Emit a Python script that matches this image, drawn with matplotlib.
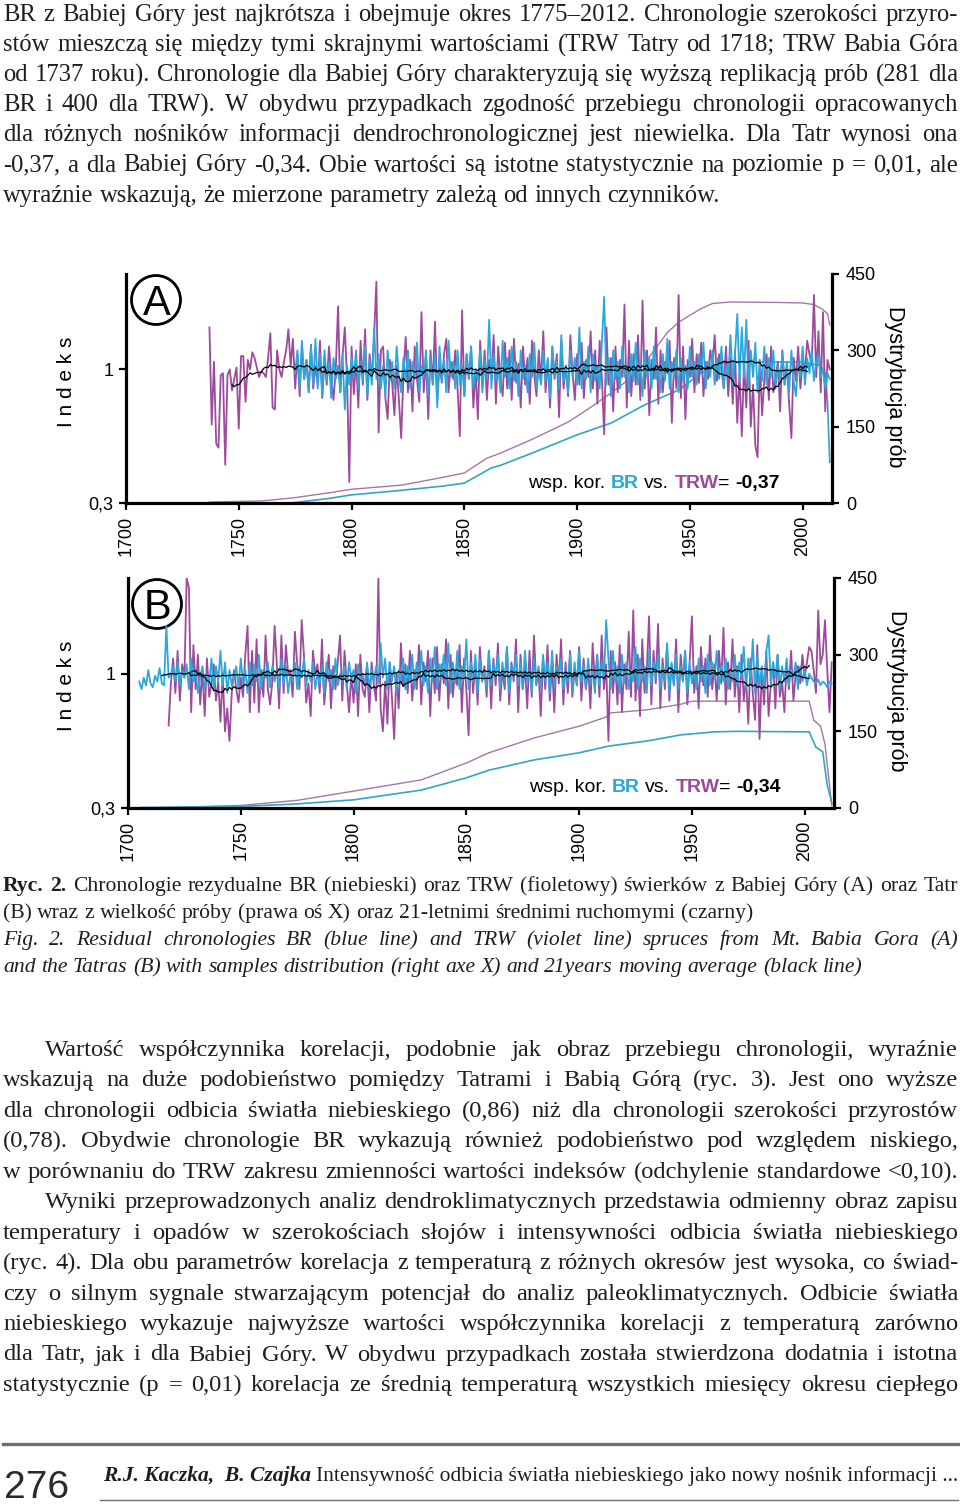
import numpy as np
import pandas as pd
import matplotlib
matplotlib.use('Agg')
import matplotlib.pyplot as plt
from matplotlib.patches import Ellipse
from matplotlib.lines import Line2D

# ---------------- DATA ----------------
# Panel A (Babia Góra) residual chronologies
A_TRW_START = 1737
A_TRW = [
    1.22, 0.71, 1.04, 0.61, 0.59, 0.97, 0.98, 0.50, 0.97, 1.00,
    0.89, 0.95, 1.01, 0.69, 1.07, 1.07, 0.83, 1.05, 1.00, 1.09,
    1.06, 1.01, 0.96, 0.99, 0.98, 0.96, 1.06, 1.19, 0.80, 0.79,
    1.10, 1.00, 0.96, 1.04, 1.10, 1.21, 1.02, 1.16, 0.90, 1.08,
    0.86, 1.12, 0.95, 1.05, 0.88, 1.13, 0.90, 1.02, 0.92, 1.15,
    0.85, 1.05, 0.92, 1.12, 0.96, 0.84, 1.00, 1.33, 0.88, 1.07,
    1.22, 0.95, 0.41, 1.12, 0.87, 1.05, 0.80, 1.15, 0.92, 1.21,
    0.84, 1.08, 0.95, 1.18, 1.46, 0.67, 1.10, 1.12, 0.85, 0.74,
    1.05, 0.93, 0.76, 1.02, 0.84, 0.64, 0.97, 1.17, 0.88, 1.05,
    0.78, 1.12, 0.95, 0.83, 1.30, 0.88, 1.06, 0.74, 1.10, 0.92,
    1.25, 0.84, 1.02, 0.93, 1.08, 1.16, 0.88, 1.04, 0.95, 1.10,
    0.90, 0.65, 1.31, 0.86, 1.08, 0.95, 1.12, 0.80, 1.00, 0.74,
    1.15, 0.92, 1.10, 0.84, 1.05, 0.96, 1.18, 0.82, 1.12, 0.95,
    0.86, 1.14, 0.90, 1.10, 0.84, 1.16, 0.93, 1.03, 0.80, 1.12,
    0.92, 1.06, 0.82, 1.15, 0.97, 0.86, 1.10, 0.94, 1.20, 0.88,
    1.05, 0.80, 1.12, 0.95, 1.08, 0.75, 1.15, 0.90, 1.02, 0.86,
    1.18, 0.98, 0.84, 1.08, 0.92, 1.14, 0.85, 1.05, 0.96, 1.20,
    0.90, 1.10, 0.82, 1.15, 0.95, 0.66, 1.22, 0.92, 1.06, 0.78,
    1.12, 0.88, 1.05, 0.96, 1.34, 0.80, 1.15, 0.86, 1.08, 0.92,
    1.18, 0.84, 1.36, 0.90, 1.10, 0.76, 1.05, 0.95, 1.22, 0.82,
    1.10, 0.88, 1.04, 0.98, 1.15, 0.72, 1.06, 0.90, 1.39, 0.85,
    1.12, 0.74, 1.05, 0.96, 1.16, 0.88, 1.08, 0.93, 1.14, 0.86,
    1.04, 0.95, 1.10, 1.02, 1.18, 0.94, 1.08, 1.00, 0.90, 1.12,
    0.86, 1.06, 0.82, 1.10, 0.72, 0.98, 0.65, 1.04, 0.80, 1.15,
    0.70, 0.92, 0.60, 0.54, 1.05, 0.76, 0.95, 1.08, 0.84, 1.12,
    0.88, 0.96, 1.04, 0.78, 1.10, 0.92, 1.02, 0.82, 0.64, 1.06,
    0.94, 1.12, 0.90, 1.05, 0.98, 1.15, 1.08, 1.02, 1.39, 0.96,
    1.20, 0.88, 1.30, 0.78, 1.05, 1.00,
]
A_BR_START = 1775
A_BR = [
    0.98, 1.10, 0.90, 1.15, 0.95, 1.05, 0.88, 1.12, 0.92, 1.16,
    0.90, 1.08, 0.86, 1.10, 0.94, 1.04, 0.85, 1.06, 0.95, 1.02,
    0.88, 1.08, 0.79, 1.02, 0.92, 1.06, 0.96, 1.10, 0.90, 1.04,
    0.94, 1.12, 0.86, 1.05, 0.92, 1.22, 0.95, 1.08, 0.90, 1.02,
    0.86, 1.10, 0.94, 1.04, 0.90, 1.12, 0.96, 0.88, 1.06, 0.94,
    1.10, 0.90, 1.04, 0.95, 1.14, 0.88, 1.02, 0.96, 1.10, 0.86,
    1.06, 0.92, 1.08, 0.80, 1.12, 0.94, 1.05, 0.88, 1.15, 0.96,
    1.04, 0.90, 1.10, 0.92, 1.02, 0.86, 1.08, 0.96, 1.12, 0.90,
    1.00, 0.94, 1.10, 0.88, 1.05, 0.95, 1.26, 0.90, 1.08, 0.94,
    1.02, 0.88, 1.15, 0.96, 1.06, 0.90, 1.12, 0.94, 1.04, 0.86,
    1.10, 0.95, 1.02, 0.88, 1.08, 0.96, 1.14, 0.90, 1.00, 0.92,
    1.10, 0.94, 1.06, 0.85, 1.12, 0.96, 1.04, 0.90, 1.18, 0.94,
    1.02, 0.88, 1.10, 0.96, 1.06, 0.92, 1.22, 0.90, 1.04, 0.95,
    1.12, 0.88, 1.08, 0.94, 1.02, 0.90, 1.15, 1.38, 0.92, 1.06,
    0.86, 1.10, 0.95, 1.04, 0.90, 1.12, 0.96, 1.02, 0.88, 1.08,
    0.94, 1.14, 0.92, 1.04, 0.86, 1.10, 0.96, 1.06, 0.90, 1.12,
    0.95, 1.02, 0.88, 1.08, 0.94, 1.16, 0.90, 1.04, 0.96, 1.10,
    0.88, 1.06, 0.94, 1.02, 0.90, 1.12, 0.96, 1.04, 0.92, 1.08,
    0.98, 1.14, 0.90, 1.04, 0.96, 1.10, 0.92, 1.06, 0.95, 1.12,
    0.90, 1.02, 0.96, 1.18, 0.92, 1.08, 1.29, 0.94, 1.22, 0.96,
    1.26, 0.90, 1.10, 0.96, 1.14, 0.88, 1.04, 0.94, 1.12, 0.92,
    1.06, 0.96, 1.10, 0.90, 1.02, 0.95, 1.08, 0.92, 1.04, 0.88,
    1.10, 0.94, 0.86, 1.04, 0.96, 1.12, 0.92, 1.06, 0.98, 1.10,
    0.94, 1.04, 1.08, 0.96, 1.00, 0.90, 0.98, 0.95,
]
# sample depth, panel A (key points)
A_DEP_TRW_YEARS = [1737, 1760, 1774, 1790, 1800, 1822, 1840, 1850, 1860, 1866, 1880, 1896,
                   1905, 1915, 1925, 1930, 1935, 1940, 1945, 1950, 1955, 1960, 1968, 1990,
                   2000, 2005, 2009, 2011, 2012]
A_DEP_TRW = [2, 4, 10, 20, 27, 35, 50, 59, 88, 98, 125, 159,
             185, 216, 250, 275, 305, 335, 355, 369, 382, 392, 395, 394,
             393, 390, 380, 372, 350]
A_DEP_BR_YEARS = [1775, 1790, 1800, 1820, 1840, 1850, 1862, 1866, 1880, 1900, 1915, 1930,
                  1945, 1955, 1965, 1975, 2000, 2008, 2010, 2011, 2012]
A_DEP_BR = [1, 9, 16, 24, 33, 39, 69, 74, 98, 134, 157, 193,
            222, 255, 275, 277, 277, 270, 255, 200, 80]

# Panel B (Tatry) residual chronologies
B_TRW_START = 1718
B_TRW = [
    0.73, 0.95, 1.08, 0.90, 1.12, 0.86, 1.05, 0.98, 1.50, 1.45,
    0.80, 1.15, 0.92, 1.10, 0.84, 1.02, 0.78, 1.08, 0.88, 0.95,
    1.05, 0.86, 0.96, 0.75, 1.00, 0.70, 0.82, 0.65, 0.90, 1.02,
    0.92, 0.85, 0.98, 0.88, 1.10, 1.25, 0.80, 1.12, 0.85, 1.18,
    0.80, 1.02, 0.88, 1.20, 0.92, 0.84, 0.96, 1.25, 1.05, 0.82,
    1.20, 0.90, 1.15, 1.00, 1.02, 0.88, 1.22, 1.05, 0.92, 1.28,
    1.10, 0.85, 0.95, 0.78, 1.12, 1.00, 1.05, 0.90, 1.18, 0.84,
    0.98, 1.10, 0.82, 1.04, 0.92, 1.06, 1.20, 0.86, 1.12, 0.95,
    0.80, 1.00, 0.85, 1.05, 0.78, 1.10, 0.92, 0.88, 1.04, 0.80,
    1.06, 0.94, 0.86, 1.50, 0.82, 0.70, 0.96, 0.74, 1.06, 0.88,
    0.66, 1.00, 0.82, 1.16, 0.94, 1.05, 0.90, 1.12, 0.86, 1.02,
    0.92, 1.15, 0.84, 1.06, 0.96, 1.12, 0.78, 1.08, 0.90, 1.14,
    0.86, 1.05, 0.95, 1.18, 0.82, 1.10, 0.88, 1.02, 0.94, 1.15,
    0.80, 1.08, 0.92, 0.68, 1.12, 0.90, 1.06, 0.84, 1.14, 0.96,
    1.04, 0.88, 1.12, 0.82, 1.08, 0.94, 1.16, 0.86, 1.02, 0.92,
    1.14, 0.84, 1.06, 0.96, 1.18, 0.80, 1.10, 0.92, 1.04, 0.82,
    1.12, 0.88, 1.20, 0.94, 1.02, 0.78, 1.08, 0.92, 1.15, 0.86,
    1.05, 0.80, 1.10, 0.95, 1.18, 0.84, 1.06, 0.90, 1.12, 0.88,
    1.02, 0.94, 1.14, 0.86, 1.08, 0.92, 1.04, 0.82, 1.16, 0.95,
    1.10, 0.88, 1.20, 0.92, 1.05, 0.65, 1.12, 0.90, 1.06, 0.84,
    1.15, 0.80, 1.05, 0.92, 1.22, 0.88, 1.33, 0.86, 1.10, 0.78,
    1.18, 0.90, 1.02, 1.30, 0.84, 1.12, 0.95, 1.26, 0.82, 1.08,
    0.92, 1.15, 0.86, 1.05, 0.94, 1.18, 0.80, 1.10, 0.96, 1.12,
    0.84, 1.06, 1.30, 0.90, 1.04, 0.82, 1.14, 0.94, 1.08, 0.88,
    1.20, 0.92, 1.05, 0.86, 1.12, 0.95, 1.24, 0.84, 1.06, 0.92,
    1.18, 0.88, 1.04, 0.80, 1.10, 0.86, 0.98, 0.74, 1.08, 0.90,
    0.76, 1.15, 0.66, 1.02, 0.84, 1.12, 0.78, 0.95, 1.06, 0.82,
    1.10, 0.88, 0.96, 0.80, 1.05, 0.92, 1.12, 0.86, 1.00, 1.04,
    0.95, 1.10, 0.98, 1.06, 1.14, 1.12, 1.02, 0.90, 1.33, 1.05,
    1.10, 1.28, 1.02, 0.80, 1.06,
]
B_BR_START = 1705
B_BR = [
    0.96, 0.92, 0.98, 0.94, 1.02, 0.95, 0.93, 0.99, 0.96, 1.03,
    0.95, 0.94, 1.25, 0.98, 1.00, 1.04, 0.96, 1.06, 0.94, 1.02,
    0.98, 1.05, 0.92, 1.08, 0.96, 1.02, 0.90, 0.98, 1.04, 0.92,
    1.00, 0.95, 1.08, 0.92, 1.04, 0.96, 1.12, 0.94, 1.06, 0.90,
    1.02, 0.94, 0.98, 1.04, 0.92, 1.08, 0.95, 1.02, 0.90, 1.06,
    0.94, 1.05, 0.96, 1.10, 0.92, 1.02, 0.98, 1.06, 0.93, 1.04,
    0.96, 1.02, 0.92, 1.08, 0.95, 1.04, 0.90, 1.00, 0.96, 1.06,
    0.92, 1.04, 0.98, 1.08, 0.94, 1.02, 0.96, 1.06, 0.92, 1.00,
    0.95, 1.04, 0.90, 1.06, 0.96, 1.02, 0.92, 1.08, 0.94, 1.00,
    0.96, 1.04, 0.92, 1.06, 0.98, 1.02, 0.90, 1.05, 0.96, 1.00,
    0.94, 1.06, 0.92, 1.02, 0.96, 1.04, 0.95, 1.16, 0.98, 1.08,
    0.92, 1.06, 0.96, 1.04, 0.90, 1.02, 0.95, 1.08, 0.92, 1.04,
    0.96, 1.10, 0.92, 1.06, 0.98, 1.12, 0.94, 1.04, 0.90, 1.08,
    0.96, 1.14, 0.92, 1.05, 0.98, 1.10, 0.94, 1.16, 0.90, 1.06,
    0.95, 1.12, 0.92, 1.04, 0.98, 1.18, 0.92, 1.06, 0.96, 1.10,
    0.90, 1.08, 0.96, 1.02, 0.92, 1.12, 0.94, 1.05, 0.98, 1.10,
    0.92, 1.06, 0.96, 1.14, 0.90, 1.04, 0.98, 1.10, 0.94, 1.06,
    0.92, 1.12, 0.96, 1.02, 0.90, 1.08, 0.95, 1.04, 0.92, 1.10,
    0.96, 1.06, 0.90, 1.12, 0.94, 1.04, 0.98, 1.08, 0.92, 1.02,
    0.96, 1.10, 0.90, 1.06, 0.94, 1.12, 0.96, 1.04, 0.92, 1.08,
    0.95, 1.02, 0.90, 1.10, 0.94, 1.06, 0.98, 1.28, 1.08, 0.92,
    1.12, 0.96, 1.04, 0.90, 1.10, 0.95, 1.06, 0.92, 1.02, 0.96,
    1.14, 0.92, 1.08, 0.96, 1.04, 0.90, 1.12, 0.94, 1.06, 0.98,
    1.10, 0.92, 1.04, 0.96, 1.16, 0.90, 1.06, 0.94, 1.10, 0.92,
    1.04, 0.96, 1.12, 0.90, 1.06, 0.95, 1.02, 0.92, 1.08, 0.96,
    1.04, 0.90, 1.10, 0.94, 1.06, 0.98, 1.12, 0.92, 1.04, 0.96,
    1.08, 0.92, 1.02, 0.96, 1.10, 0.94, 1.06, 0.98, 1.14, 0.92,
    1.08, 0.96, 1.18, 0.90, 1.10, 0.94, 1.04, 0.92, 1.12, 1.20,
    0.94, 1.06, 0.98, 1.10, 0.92, 1.04, 0.96, 1.08, 0.94, 1.02,
    0.98, 1.06, 0.92, 1.04, 0.96, 1.02, 0.94, 1.00, 0.98, 0.96,
    0.95, 0.97, 0.94, 0.96, 0.95, 0.93, 0.96, 0.95,
]
B_DEP_TRW_YEARS = [1718, 1750, 1775, 1800, 1830, 1850, 1860, 1880, 1900, 1912, 1914,
                   1930, 1945, 1950, 2002, 2004, 2007, 2009, 2011, 2012]
B_DEP_TRW = [1, 5, 15, 33, 55, 88, 108, 137, 160, 178, 186,
             192, 203, 209, 209, 172, 160, 125, 45, 5]
B_DEP_BR_YEARS = [1705, 1750, 1775, 1800, 1830, 1850, 1860, 1880, 1900, 1913, 1930,
                  1945, 1960, 1970, 2002, 2005, 2008, 2010, 2012]
B_DEP_BR = [1, 3, 8, 16, 35, 59, 74, 94, 108, 121, 131,
            143, 149, 150, 149, 119, 110, 45, 10]

X_TICKS = [1700, 1750, 1800, 1850, 1900, 1950, 2000]
Y_TICKS = [0.3, 1.0]
Y_TICK_LABELS = ['0,3', '1']
R_TICKS = [0, 150, 300, 450]

# ---------------- TEXT ----------------
TOP_LINES = [
    "BR z Babiej Góry jest najkrótsza i obejmuje okres 1775–2012. Chronologie szerokości przyro-",
    "stów mieszczą się między tymi skrajnymi wartościami (TRW Tatry od 1718; TRW Babia Góra",
    "od 1737 roku). Chronologie dla Babiej Góry charakteryzują się wyższą replikacją prób (281 dla",
    "BR i 400 dla TRW). W obydwu przypadkach zgodność przebiegu chronologii opracowanych",
    "dla różnych nośników informacji dendrochronologicznej jest niewielka. Dla Tatr wynosi ona",
    "-0,37, a dla Babiej Góry -0,34. Obie wartości są istotne statystycznie na poziomie p = 0,01, ale",
    "wyraźnie wskazują, że mierzone parametry zależą od innych czynników.",
]
BODY_LINES = [
    "Wartość współczynnika korelacji, podobnie jak obraz przebiegu chronologii, wyraźnie",
    "wskazują na duże podobieństwo pomiędzy Tatrami i Babią Górą (ryc. 3). Jest ono wyższe",
    "dla chronologii odbicia światła niebieskiego (0,86) niż dla chronologii szerokości przyrostów",
    "(0,78). Obydwie chronologie BR wykazują również podobieństwo pod względem niskiego,",
    "w porównaniu do TRW zakresu zmienności wartości indeksów (odchylenie standardowe <0,10).",
    "Wyniki przeprowadzonych analiz dendroklimatycznych przedstawia odmienny obraz zapisu",
    "temperatury i opadów w szerokościach słojów i intensywności odbicia światła niebieskiego",
    "(ryc. 4). Dla obu parametrów korelacja z temperaturą z różnych okresów jest wysoka, co świad-",
    "czy o silnym sygnale stwarzającym potencjał do analiz paleoklimatycznych. Odbicie światła",
    "niebieskiego wykazuje najwyższe wartości współczynnika korelacji z temperaturą zarówno",
    "dla Tatr, jak i dla Babiej Góry. W obydwu przypadkach została stwierdzona dodatnia i istotna",
    "statystycznie (p = 0,01) korelacja ze średnią temperaturą wszystkich miesięcy okresu ciepłego",
]
CAP_PL_1 = "Chronologie rezydualne BR (niebieski) oraz TRW (fioletowy) świerków z Babiej Góry (A) oraz Tatr"
CAP_PL_2 = "(B) wraz z wielkość próby (prawa oś X) oraz 21-letnimi średnimi ruchomymi (czarny)"
CAP_EN_1 = "Fig. 2. Residual chronologies BR (blue line) and TRW (violet line) spruces from Mt. Babia Gora (A)"
CAP_EN_2 = "and the Tatras (B) with samples distribution (right axe X) and 21years moving average (black line)"

# ---------------- STYLE ----------------
W, H = 960, 1505
SERIF = 'Liberation Serif'
SANS = 'Liberation Sans'
PURPLE = '#9d4a9d'
BLUE = '#2aa8dc'
DEP_PURPLE = '#a477a4'
DEP_BLUE = '#31a6c4'
TXT = '#1e1e1e'
plt.rcParams['font.family'] = SANS

fig = plt.figure(figsize=(W / 100, H / 100), dpi=100)
fig.patch.set_facecolor('white')
renderer = fig.canvas.get_renderer()


def fx(x):
    return x / W


def fy(y):
    return 1 - y / H


def measure(s, size, family, weight='normal', style='normal'):
    t = fig.text(0, 0, s, fontsize=size, family=family, weight=weight, style=style)
    w = t.get_window_extent(renderer).width
    t.remove()
    return w


def words_of(s, weight='normal', style='normal'):
    return [(w, weight, style) for w in s.split()]


def draw_block(lines, baselines, size, family=SERIF, x0=3, x1=958):
    # lines: list of (words, justify, indent)
    def nat(words, sz):
        sp = measure('a a', sz, family) - measure('aa', sz, family)
        ws = [measure(w, sz, family, wt, st) for w, wt, st in words]
        return ws, sp
    worst = 0
    for words, just, ind in lines:
        ws, sp = nat(words, size)
        worst = max(worst, (sum(ws) + sp * (len(ws) - 1) + ind) / (x1 - x0))
    if worst > 0.99:
        size = size * 0.99 / worst
    for (words, just, ind), yb in zip(lines, baselines):
        ws, sp = nat(words, size)
        if just and len(ws) > 1:
            gap = (x1 - x0 - ind - sum(ws)) / (len(ws) - 1)
        else:
            gap = sp
        x = x0 + ind
        for (w, wt, st), wd in zip(words, ws):
            fig.text(fx(x), fy(yb), w, fontsize=size, family=family, weight=wt,
                     style=st, va='baseline', ha='left', color=TXT)
            x += wd + gap


def draw_runs(x, y, pieces, size, family=SANS):
    sp = measure('a a', size, family) - measure('aa', size, family)
    for s, color, weight, space_after in pieces:
        t = fig.text(fx(x), fy(y), s, fontsize=size, family=family, color=color,
                     weight=weight, va='baseline', ha='left')
        x += t.get_window_extent(renderer).width + (sp if space_after else 0)


def panel(box, trw_start, trw, br_start, br, dtx, dty, dbx, dby, letter, corr, circ, ind_c, dys_c, corr_xy):
    left, top, right, bottom = box
    ax = fig.add_axes([fx(left), fy(bottom), (right - left) / W, (bottom - top) / H])
    ax2 = ax.twinx()
    ax.set_zorder(2)
    ax2.set_zorder(1)
    ax.patch.set_visible(False)

    # sample depth
    ax2.plot(dtx, dty, color=DEP_PURPLE, lw=1.0)
    ax2.plot(dbx, dby, color=DEP_BLUE, lw=1.2)
    ax2.set_ylim(0, 450)

    trw_years = np.arange(trw_start, trw_start + len(trw))
    br_years = np.arange(br_start, br_start + len(br))
    ax.plot(trw_years, trw, color=PURPLE, lw=1.3)
    ax.plot(br_years, br, color=BLUE, lw=1.3)
    trw_ma = pd.Series(trw).rolling(21, center=True).mean()
    br_ma = pd.Series(br).rolling(21, center=True).mean()
    ax.plot(trw_years, trw_ma, color='black', lw=0.9)
    ax.plot(br_years, br_ma, color='black', lw=0.9)

    ax.set_xlim(1700, 2013)
    ax.set_ylim(0.3, 1.5)
    ax.set_yticks(Y_TICKS)
    ax.set_yticklabels(Y_TICK_LABELS)
    ax.set_xticks(X_TICKS)
    ax.set_xticklabels([str(v) for v in X_TICKS], rotation=90)
    ax2.set_yticks(R_TICKS)
    ax2.set_yticklabels([str(v) for v in R_TICKS])

    for s in ['top', 'right']:
        ax.spines[s].set_visible(False)
    for s in ['top', 'left', 'bottom']:
        ax2.spines[s].set_visible(False)
    ax.spines['left'].set_linewidth(2.3)
    ax.spines['bottom'].set_linewidth(2.3)
    ax2.spines['right'].set_linewidth(2.3)
    ax.tick_params(axis='both', direction='out', length=5, width=1.6, labelsize=13, pad=4)
    ax2.tick_params(axis='y', direction='out', length=5, width=1.6, labelsize=13, pad=5)

    # circled letter
    cx, cy = circ
    fig.add_artist(Ellipse((fx(cx), fy(cy)), 49 / W, 49 / H, transform=fig.transFigure,
                           fill=False, ec='black', lw=2.0))
    fig.text(fx(cx + 0.5), fy(cy + 15), letter, ha='center', va='baseline', fontsize=30,
             family=SANS, color='black')

    fig.text(fx(ind_c[0]), fy(ind_c[1]), 'I n d e k s', rotation=90, ha='center', va='center',
             fontsize=15, family=SANS, color='black')
    fig.text(fx(dys_c[0]), fy(dys_c[1]), 'Dystrybucja prób', rotation=270, ha='center',
             va='center', fontsize=15.5, family=SANS, color='black')

    draw_runs(corr_xy[0], corr_xy[1], [
        ('wsp. kor.', 'black', 'normal', True),
        ('BR', BLUE, 'bold', True),
        ('vs.', 'black', 'normal', True),
        ('TRW', PURPLE, 'bold', False),
        ('=', 'black', 'normal', True),
        (corr, 'black', 'bold', False),
    ], 14)
    return ax


panel((126, 274, 832, 503), A_TRW_START, A_TRW, A_BR_START, A_BR,
      A_DEP_TRW_YEARS, A_DEP_TRW, A_DEP_BR_YEARS, A_DEP_BR,
      'A', '-0,37', (156, 300), (66, 382), (895, 387), (528, 488))
panel((128, 578, 834, 808), B_TRW_START, B_TRW, B_BR_START, B_BR,
      B_DEP_TRW_YEARS, B_DEP_TRW, B_DEP_BR_YEARS, B_DEP_BR,
      'B', '-0,34', (157, 604), (66, 686), (896, 691), (529, 792))

# ---------------- PAGE TEXT ----------------
top_lines = [(words_of(s), i < len(TOP_LINES) - 1, 0) for i, s in enumerate(TOP_LINES)]
top_base = [21 + 30.1 * i for i in range(len(TOP_LINES))]
draw_block(top_lines, top_base, 18.2)

cap_lines = [
    (words_of('Ryc. 2.', 'bold') + words_of(CAP_PL_1), True, 0),
    (words_of(CAP_PL_2), False, 0),
    (words_of(CAP_EN_1, style='italic'), True, 0),
    (words_of(CAP_EN_2, style='italic'), False, 0),
]
draw_block(cap_lines, [891, 918, 945, 972], 16.1)

indents = {0: 42, 5: 42}
body_lines = [(words_of(s), True, indents.get(i, 0)) for i, s in enumerate(BODY_LINES)]
body_base = [1056 + 30.45 * i for i in range(len(BODY_LINES))]
draw_block(body_lines, body_base, 18.2)

# footer
fig.add_artist(Line2D([fx(3), fx(958)], [fy(1444), fy(1444)], transform=fig.transFigure,
                      color='#6f6f6f', lw=2.4))
fig.add_artist(Line2D([fx(100), fx(958)], [fy(1500), fy(1500)], transform=fig.transFigure,
                      color='#6f6f6f', lw=1.0))
fig.text(fx(4), fy(1498), '276', fontsize=28, family=SANS, va='baseline', ha='left', color='#2a2a2a')
fig.text(fx(103), fy(1481), 'R.J. Kaczka,  B. Czajka', fontsize=15.5, family=SERIF,
         weight='bold', style='italic', va='baseline', ha='left', color=TXT)
fig.text(fx(958), fy(1481), 'Intensywność odbicia światła niebieskiego jako nowy nośnik informacji ...',
         fontsize=15.5, family=SERIF, va='baseline', ha='right', color=TXT)

fig.savefig('out.png', dpi=100, facecolor='white')
